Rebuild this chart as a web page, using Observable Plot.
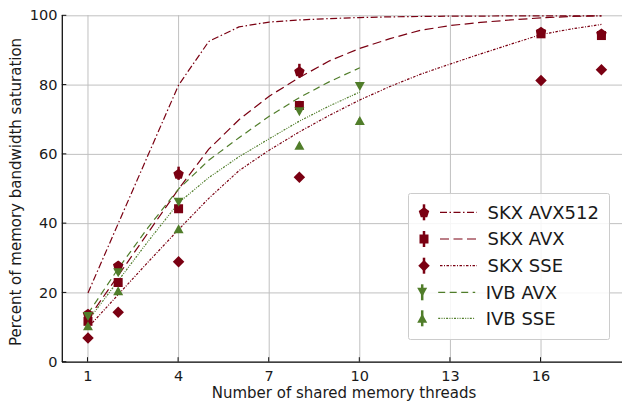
<!DOCTYPE html>
<html><head><meta charset="utf-8">
<script src="https://cdn.jsdelivr.net/npm/d3@7"></script>
<script src="https://cdn.jsdelivr.net/npm/@observablehq/plot@0.6"></script>
<style>
body{margin:0;background:#fff;}
#chart{position:relative;width:622px;height:401px;overflow:hidden;}
</style>
</head><body><div id="chart"></div>
<script>
// ---- data ----
const seriesNames = ["SKX AVX512", "SKX AVX", "SKX SSE", "IVB AVX", "IVB SSE"];
const xTicks = [1, 4, 7, 10, 13, 16];
const yTicks = [0, 20, 40, 60, 80, 100];

// measured points
const threadsSkx = [1, 2, 4, 8, 16, 18];
const threadsIvb = [1, 2, 4, 8, 10];
const skxAvx512 = [14.0, 27.9, 54.4, 84.0, 95.4, 94.9];
const skxAvx512Err = [0.8, 1.0, 1.9, 2.0, 0.8, 0.8];
const skxAvx = [11.8, 23.0, 44.3, 74.1, 94.8, 94.3];
const skxAvxErr = [0.8, 0.8, 0.8, 1.2, 0.6, 0.6];
const skxSse = [7.0, 14.4, 29.0, 53.4, 81.3, 84.4];
const skxSseErr = [0.3, 0.3, 0.3, 0.4, 0.4, 0.4];
const ivbAvx = [13.2, 25.8, 46.2, 72.3, 79.6];
const ivbAvxErr = [0.5, 0.5, 0.5, 0.6, 0.6];
const ivbSse = [10.5, 20.6, 38.5, 62.6, 69.8];
const ivbSseErr = [0.4, 0.4, 0.4, 0.5, 0.5];

// model curves
const modelThreadsSkx = [1, 2, 3, 4, 5, 6, 7, 8, 9, 10, 11, 12, 13, 14, 15, 16, 17, 18];
const modelThreadsIvb = [1, 2, 3, 4, 5, 6, 7, 8, 9, 10];
const skxAvx512Model = [20, 40, 60, 80, 92.6, 96.8, 98.2, 98.8, 99.2, 99.5, 99.7, 99.8, 99.9, 99.9, 100, 100, 100, 100];
const skxAvxModel = [12.5, 25, 37.5, 50, 61.5, 70, 76.8, 82.2, 87, 90.6, 93.4, 95.8, 97.2, 98.1, 98.8, 99.4, 99.8, 100];
const skxSseModel = [10, 19.5, 29, 38.3, 47.3, 55.3, 61.2, 66.5, 71.3, 75.7, 79.6, 83.1, 86.1, 89, 91.8, 94.6, 96.2, 97.5];
const ivbAvxModel = [14, 27, 39, 50, 58.3, 64.8, 71, 76.4, 81, 85];
const ivbSseModel = [12, 23.5, 35, 46, 53.3, 59.3, 64.5, 69.6, 74, 78];

// ---- styles ----
const red = "#7a0012";
const green = "#507d2a";
const xDomain = [0.15, 18.85];

// custom marker shapes (radius-based)
function poly(pts) {
  return {draw(ctx, size) {
    const r = Math.sqrt(size / Math.PI);
    ctx.moveTo(pts[0][0] * r, pts[0][1] * r);
    for (let i = 1; i < pts.length; i++) ctx.lineTo(pts[i][0] * r, pts[i][1] * r);
    ctx.closePath();
  }};
}
const pentagon = poly(d3.range(5).map(i => {
  const a = -Math.PI / 2 + i * 2 * Math.PI / 5;
  return [1.1 * Math.cos(a), 1.1 * Math.sin(a) + 0.1];
}));
const square = poly([[-0.9, -0.9], [0.9, -0.9], [0.9, 0.9], [-0.9, 0.9]]);
const diamond = poly([[0, -1.15], [1.15, 0], [0, 1.15], [-1.15, 0]]);
const triDown = poly([[-1, -0.9], [1, -0.9], [0, 0.9]]);
const triUp = poly([[0, -0.9], [1, 0.9], [-1, 0.9]]);

const specs = [
  {name: seriesNames[0], color: red, symbol: pentagon, dash: "7,2.5,1.5,2.5", xs: threadsSkx, ys: skxAvx512, err: skxAvx512Err, mx: modelThreadsSkx, my: skxAvx512Model},
  {name: seriesNames[1], color: red, symbol: square, dash: "9,4.5", xs: threadsSkx, ys: skxAvx, err: skxAvxErr, mx: modelThreadsSkx, my: skxAvxModel},
  {name: seriesNames[2], color: red, symbol: diamond, dash: "2.5,1.5,1,1.5", xs: threadsSkx, ys: skxSse, err: skxSseErr, mx: modelThreadsSkx, my: skxSseModel},
  {name: seriesNames[3], color: green, symbol: triDown, dash: "7,4.5", xs: threadsIvb, ys: ivbAvx, err: ivbAvxErr, mx: modelThreadsIvb, my: ivbAvxModel},
  {name: seriesNames[4], color: green, symbol: triUp, dash: "2,1.3,1,1.3,1,1.3", xs: threadsIvb, ys: ivbSse, err: ivbSseErr, mx: modelThreadsIvb, my: ivbSseModel}
];

const lineMarks = specs.map(s => Plot.line(s.mx.map((x, i) => ({x, y: s.my[i]})), {
  x: "x", y: "y", stroke: s.color, strokeWidth: 1.2, strokeDasharray: s.dash,
  strokeLinecap: "butt", strokeLinejoin: "miter"
}));
const pointMarks = specs.flatMap(s => {
  const pts = s.xs.map((x, i) => ({x, y: s.ys[i], e: s.err[i]}));
  return [
    Plot.ruleX(pts, {x: "x", y1: d => d.y - d.e, y2: d => d.y + d.e, stroke: s.color, strokeWidth: 2.5}),
    Plot.dot(pts, {x: "x", y: "y", symbol: s.symbol, r: 5, fill: s.color, stroke: "none"})
  ];
});

const svg = Plot.plot({
  width: 622,
  height: 401,
  marginLeft: 62,
  marginRight: 0,
  marginTop: 15,
  marginBottom: 39,
  style: {fontFamily: "'DejaVu Sans', sans-serif", fontSize: "15px", color: "#1a1a1a", background: "#fff"},
  x: {domain: xDomain, range: [61.8, 626.6]},
  y: {domain: [0, 100], range: [361.7, 15.3]},
  marks: [
    Plot.gridX(xTicks, {stroke: "#c0c0c0", strokeOpacity: 1, strokeWidth: 1}),
    Plot.gridY(yTicks, {stroke: "#c0c0c0", strokeOpacity: 1, strokeWidth: 1}),
    Plot.axisX(xTicks, {tickSize: 0, tickPadding: 8, label: null, fontSize: 14.5}),
    Plot.axisY(yTicks, {tickSize: 0, tickPadding: 5, label: null, fontSize: 14.5}),
    ...lineMarks,
    ...pointMarks,
    Plot.ruleY([0], {stroke: "#111", strokeWidth: 1.3}),
    Plot.ruleX([xDomain[0]], {stroke: "#111", strokeWidth: 1.3})
  ]
});

const g = d3.select(svg);
// inward tick marks, positioned through the plot's own scales
const sx = svg.scale("x"), sy = svg.scale("y");
const x0 = sx.apply(xDomain[0]), y0 = sy.apply(0);
const tg = g.append("g").attr("stroke", "#111").attr("stroke-width", 1);
yTicks.forEach(v => tg.append("line").attr("x1", x0).attr("x2", x0 + 4.5)
  .attr("y1", sy.apply(v)).attr("y2", sy.apply(v)));
xTicks.forEach(v => tg.append("line").attr("x1", sx.apply(v)).attr("x2", sx.apply(v))
  .attr("y1", y0).attr("y2", y0 - 4.5));

// axis titles
g.append("text").attr("x", 344).attr("y", 397.5).attr("text-anchor", "middle")
  .attr("font-size", 15).attr("fill", "#1a1a1a").text("Number of shared memory threads");
g.append("text").attr("transform", "translate(21,192) rotate(-90)").attr("text-anchor", "middle")
  .attr("font-size", 15).attr("fill", "#1a1a1a").text("Percent of memory bandwidth saturation");

// legend
const lg = g.append("g").attr("text-anchor", "start");
lg.append("rect").attr("x", 408.5).attr("y", 193.5).attr("width", 201).attr("height", 146)
  .attr("rx", 2).attr("fill", "#fff").attr("fill-opacity", 0.85).attr("stroke", "#cccccc");
const rowY = [212.3, 239, 265.7, 292.3, 318.3];
specs.forEach((s, i) => {
  const off = s.color === green ? -1.8 : 0;
  const y = rowY[i];
  lg.append("line").attr("x1", 424 + off).attr("x2", 424 + off).attr("y1", y - 8).attr("y2", y + 8)
    .attr("stroke", s.color).attr("stroke-width", 2.5);
  lg.append("path").attr("transform", `translate(${424 + off},${y})`)
    .attr("d", d3.symbol(s.symbol, 25 * Math.PI)()).attr("fill", s.color);
  lg.append("line").attr("x1", 440 + off).attr("x2", 477 + off).attr("y1", y).attr("y2", y)
    .attr("stroke", s.color).attr("stroke-width", 1.2).attr("stroke-dasharray", s.dash);
  lg.append("text").attr("x", 487.5 + off).attr("y", y).attr("dy", "0.36em").attr("text-anchor", "start")
    .attr("font-size", 18).attr("fill", "#1a1a1a").text(s.name);
});

document.getElementById("chart").appendChild(svg);
</script>
</body></html>
